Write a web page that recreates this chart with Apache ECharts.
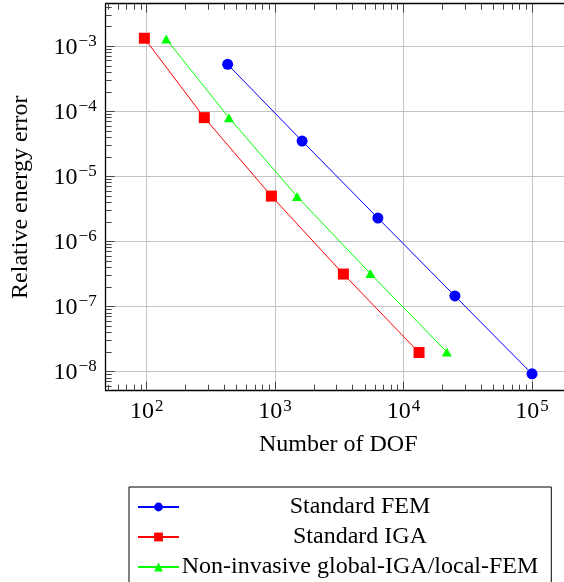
<!DOCTYPE html>
<html><head><meta charset="utf-8">
<script src="https://cdn.jsdelivr.net/npm/echarts@6/dist/echarts.min.js"></script>
<style>html,body{margin:0;padding:0;background:#fff}#c{width:564px;height:582px}</style>
</head><body><div id="c"></div>
<script>
const seriesNames = ['Standard FEM', 'Standard IGA', 'Non-invasive global-IGA/local-FEM'];
const femX = [427, 1623, 6310, 25100, 100000];
const femY = [5.28e-4, 3.49e-5, 2.29e-6, 1.45e-7, 9.2e-9];
const igaX = [96, 281, 936, 3400, 13200];
const igaY = [1.33e-3, 8.0e-5, 4.98e-6, 3.15e-7, 1.96e-8];
const ngX = [142, 437, 1483, 5520, 21700];
const ngY = [1.29e-3, 8.0e-5, 4.9e-6, 3.2e-7, 2.0e-8];
const xMajor = [100, 1000, 10000, 100000];
const yMajor = [1e-8, 1e-7, 1e-6, 1e-5, 1e-4, 1e-3];
const xMin = 48, xMax = 2e5, yMin = 5.07e-9, yMax = 4.52e-3;

function minors(lo, hi) {
  const out = [];
  for (let e = Math.floor(Math.log10(lo)); e <= Math.ceil(Math.log10(hi)); e++) {
    for (let m = 2; m <= 9; m++) {
      const v = m * Math.pow(10, e);
      if (v >= lo && v <= hi) out.push(v);
    }
  }
  return out;
}
const FONT = 'Liberation Serif';
const fs = 24;
const rich = {
  b: {fontFamily: FONT, fontSize: 24, color: '#000', lineHeight: 26, verticalAlign: 'bottom'},
  s: {fontFamily: FONT, fontSize: 17, color: '#000', lineHeight: 26, verticalAlign: 'top', padding: [0, 0, 0, 1]}
};
function fmt(v) { const e = Math.round(Math.log10(v)); return '{b|10}{s|' + (e < 0 ? '\u2212' + (-e) : e) + '}'; }

const tickStyle = {color: '#444', width: 1};
const gridLine = {show: true, lineStyle: {color: '#c4c4c4', width: 1}};
const baseX = {type: 'log', min: xMin, max: xMax, gridIndex: 0};
const baseY = {type: 'log', min: yMin, max: yMax, gridIndex: 0};

const option = {
  animation: false,
  backgroundColor: '#fff',
  grid: {left: 105.7, top: 3.7, width: 465, height: 387, containLabel: false, outerBoundsMode: 'none'},
  xAxis: [
    Object.assign({}, baseX, {position: 'bottom',
      name: 'Number of DOF', nameLocation: 'middle', nameGap: 42,
      nameTextStyle: {fontFamily: FONT, fontSize: fs, color: '#000'},
      axisLine: {show: true, lineStyle: {color: '#000', width: 1.3}},
      axisTick: {show: true, inside: true, length: 9, lineStyle: tickStyle, customValues: xMajor},
      axisLabel: {show: true, customValues: xMajor, formatter: fmt, rich: rich, margin: 7},
      splitLine: gridLine}),
    Object.assign({}, baseX, {position: 'bottom',
      axisLine: {show: false},
      axisTick: {show: true, inside: true, length: 6, lineStyle: tickStyle, customValues: minors(xMin, xMax)},
      axisLabel: {show: false}, splitLine: {show: false}}),
    Object.assign({}, baseX, {position: 'top',
      axisLine: {show: true, lineStyle: {color: '#000', width: 1.3}},
      axisTick: {show: true, inside: true, length: 9, lineStyle: tickStyle, customValues: xMajor},
      axisLabel: {show: false}, splitLine: {show: false}}),
    Object.assign({}, baseX, {position: 'top',
      axisLine: {show: false},
      axisTick: {show: true, inside: true, length: 6, lineStyle: tickStyle, customValues: minors(xMin, xMax)},
      axisLabel: {show: false}, splitLine: {show: false}})
  ],
  yAxis: [
    Object.assign({}, baseY, {position: 'left',
      name: 'Relative energy error', nameLocation: 'middle', nameGap: 73, nameRotate: 90,
      nameTextStyle: {fontFamily: FONT, fontSize: fs, color: '#000'},
      axisLine: {show: true, lineStyle: {color: '#000', width: 1.3}},
      axisTick: {show: true, inside: true, length: 9, lineStyle: tickStyle, customValues: yMajor},
      axisLabel: {show: true, customValues: yMajor, formatter: fmt, rich: rich, margin: 9},
      splitLine: gridLine}),
    Object.assign({}, baseY, {position: 'left',
      axisLine: {show: false},
      axisTick: {show: true, inside: true, length: 6, lineStyle: tickStyle, customValues: minors(yMin, yMax)},
      axisLabel: {show: false}, splitLine: {show: false}})
  ],
  legend: {
    orient: 'vertical', left: 129, top: 487, height: 160,
    padding: [8, 13, 8, 8], itemGap: 6,
    borderColor: '#000', borderWidth: 1, borderRadius: 0,
    itemWidth: 41, itemHeight: 11,
    data: seriesNames,
    formatter: function (n) { return '{t|' + n + '}'; },
    textStyle: {rich: {t: {fontFamily: FONT, fontSize: fs, color: '#000', width: 352, align: 'center', lineHeight: 26}}}
  },
  series: [
    {name: seriesNames[0], type: 'line', xAxisIndex: 0, yAxisIndex: 0,
     data: femX.map((x, i) => [x, femY[i]]),
     symbol: 'circle', symbolSize: 11,
     lineStyle: {color: '#0000ff', width: 1}, itemStyle: {color: '#0000ff'}},
    {name: seriesNames[1], type: 'line', xAxisIndex: 0, yAxisIndex: 0,
     data: igaX.map((x, i) => [x, igaY[i]]),
     symbol: 'rect', symbolSize: 11,
     lineStyle: {color: '#ff0000', width: 1}, itemStyle: {color: '#ff0000'}},
    {name: seriesNames[2], type: 'line', xAxisIndex: 0, yAxisIndex: 0,
     data: ngX.map((x, i) => [x, ngY[i]]),
     symbol: 'triangle', symbolSize: [10, 9],
     lineStyle: {color: '#00ff00', width: 1}, itemStyle: {color: '#00ff00'}}
  ]
};
const chart = echarts.init(document.getElementById('c'), null, {renderer: 'canvas'});
chart.setOption(option);
</script></body></html>
